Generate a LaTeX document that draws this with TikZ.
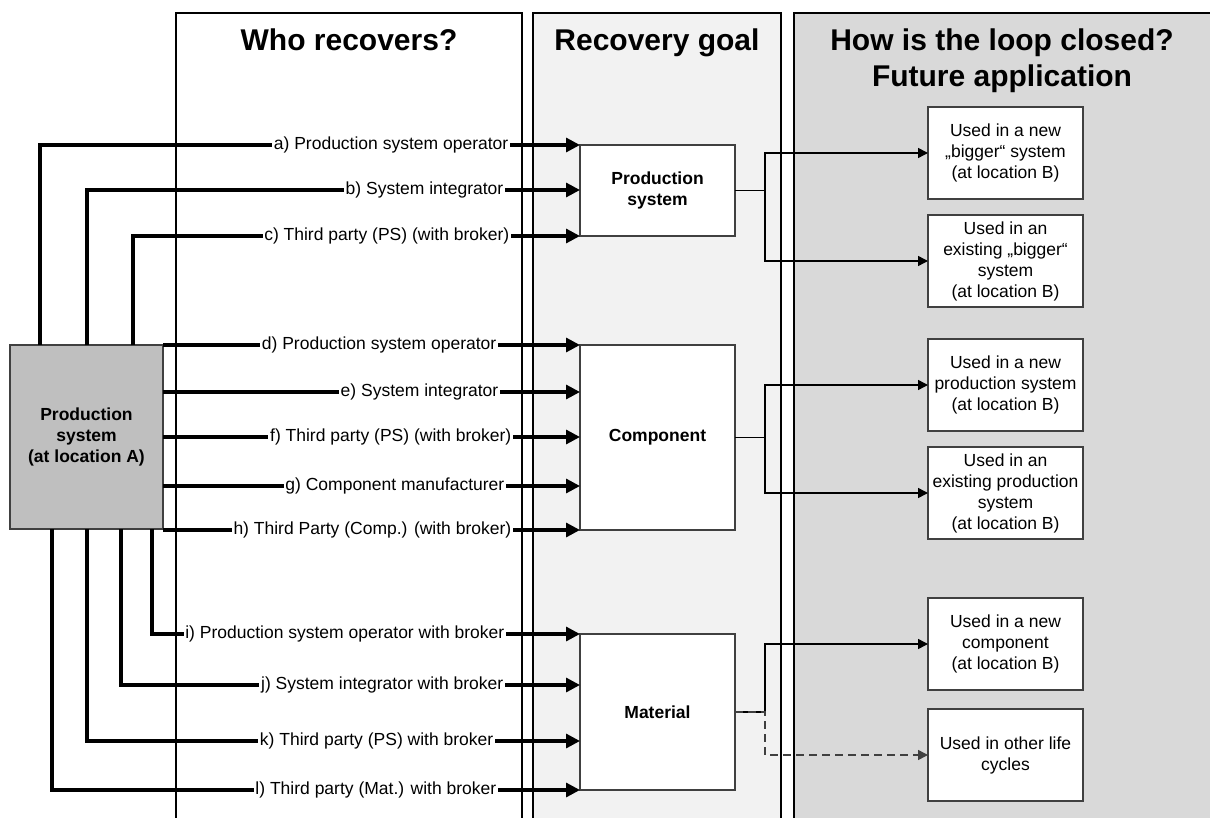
\documentclass[tikz,border=0pt]{standalone}
\usepackage{fontspec}
\setmainfont{Liberation Sans}
\usetikzlibrary{arrows.meta,calc}
\definecolor{goalfill}{HTML}{F2F2F2}
\definecolor{loopfill}{HTML}{D9D9D9}
\definecolor{srcfill}{HTML}{BFBFBF}
\definecolor{edge}{HTML}{404040}

\begin{document}
\begin{tikzpicture}[x=1pt,y=-1pt,
  column/.style={draw=black,line width=1.6pt},
  title/.style={font=\fontsize{30}{36}\selectfont\bfseries,align=center,inner sep=0pt},
  box/.style={draw=edge,line width=1.1pt,fill=white,minimum width=155pt,inner sep=0pt,
    outer sep=0pt,align=center,font=\fontsize{17.5}{21}\selectfont},
  goal/.style={box,font=\fontsize{17.5}{21}\selectfont\bfseries},
  who/.style={inner xsep=1.5pt,inner ysep=0pt,anchor=east,font=\fontsize{17.5}{21}\selectfont},
  route/.style={line width=3.2pt},
  feed/.style={route,-{Triangle[length=14pt,width=14pt]}},
  use/.style={line width=1.5pt,-{Triangle[length=10pt,width=10pt]}},
  other/.style={use,draw=edge,dash pattern=on 8pt off 5pt},
  ]
\useasboundingbox (0,0) rectangle (1210,818);

% three swim lanes
\draw[column,fill=white]    (176,13) rectangle (522,840);
\draw[column,fill=goalfill] (533,13) rectangle (781,840);
\draw[column,fill=loopfill] (794,13) rectangle (1230,840);

\node[title,anchor=base] (t1) at (349,51) {Who recovers?};
\node[title,anchor=base] (t2) at (657,51) {Recovery goal};
\node[title,anchor=north] (t3) at (1002,29) {How is the loop closed?\\Future application};

% origin
\node[box,fill=srcfill,minimum width=153pt,minimum height=184pt,
  font=\fontsize{17.5}{21}\selectfont\bfseries] (src) at (86.5,437) {Production\\system\\(at location A)};

% recovery goals
\node[goal,minimum height=91pt]  (gps)   at (657.5,190.5) {Production\\system};
\node[goal,minimum height=185pt] (gcomp) at (657.5,437.5) {Component};
\node[goal,minimum height=156pt] (gmat)  at (657.5,712)   {Material};

% future applications
\node[box,minimum height=92pt] (r1) at (1005.5,153) {Used in a new\\„bigger“ system\\(at location B)};
\node[box,minimum height=92pt] (r2) at (1005.5,261) {Used in an\\existing „bigger“\\system\\(at location B)};
\node[box,minimum height=92pt] (r3) at (1005.5,385) {Used in a new\\production system\\(at location B)};
\node[box,minimum height=92pt] (r4) at (1005.5,493) {Used in an\\existing production\\system\\(at location B)};
\node[box,minimum height=92pt] (r5) at (1005.5,644) {Used in a new\\component\\(at location B)};
\node[box,minimum height=92pt] (r6) at (1005.5,755) {Used in other life\\cycles};

% who recovers
\node[who] (la) at (510,145) {a) Production system operator};
\node[who] (lb) at (505,190) {b) System integrator};
\node[who] (lc) at (511,236) {c) Third party (PS) (with broker)};
\node[who] (ld) at (498,345) {d) Production system operator};
\node[who] (le) at (500,392) {e) System integrator};
\node[who] (lf) at (513,437) {f) Third party (PS) (with broker)};
\node[who] (lg) at (506,486) {g) Component manufacturer};
\node[who] (lh) at (513,530) {h) Third Party (Comp.) (with broker)};
\node[who] (li) at (506,634) {i) Production system operator with broker};
\node[who] (lj) at (505,685) {j) System integrator with broker};
\node[who] (lk) at (495,741) {k) Third party (PS) with broker};
\node[who] (ll) at (498,790) {l) Third party (Mat.) with broker};

% routes to the production system goal
\draw[route] ([xshift=30pt]src.north west)  |- (la.west);
\draw[route] ([xshift=77pt]src.north west)  |- (lb.west);
\draw[route] ([xshift=123pt]src.north west) |- (lc.west);
\draw[feed] (la.east) -- (gps.west |- la.east);
\draw[feed] (lb.east) -- (gps.west |- lb.east);
\draw[feed] (lc.east) -- (gps.west |- lc.east);

% routes to the component goal
\foreach \l in {ld,le,lf,lg,lh}{
  \draw[route] (src.east |- \l.west) -- (\l.west);
  \draw[feed] (\l.east) -- (gcomp.west |- \l.east);
}

% routes to the material goal
\draw[route] ([xshift=142pt]src.south west) |- (li.west);
\draw[route] ([xshift=111pt]src.south west) |- (lj.west);
\draw[route] ([xshift=77pt]src.south west)  |- (lk.west);
\draw[route] ([xshift=42pt]src.south west)  |- (ll.west);
\foreach \l in {li,lj,lk,ll}{
  \draw[feed] (\l.east) -- (gmat.west |- \l.east);
}

% closing the loop
\draw[use] (gps.east) -- ++(30,0) |- (r1.west);
\draw[use] (gps.east) -- ++(30,0) |- (r2.west);
\draw[use] (gcomp.east) -- ++(30,0) |- (r3.west);
\draw[use] (gcomp.east) -- ++(30,0) |- (r4.west);
\draw[use] (gmat.east) -- ++(30,0) |- (r5.west);
\draw[other] (gmat.east) -- ++(30,0) |- (r6.west);
\end{tikzpicture}
\end{document}
